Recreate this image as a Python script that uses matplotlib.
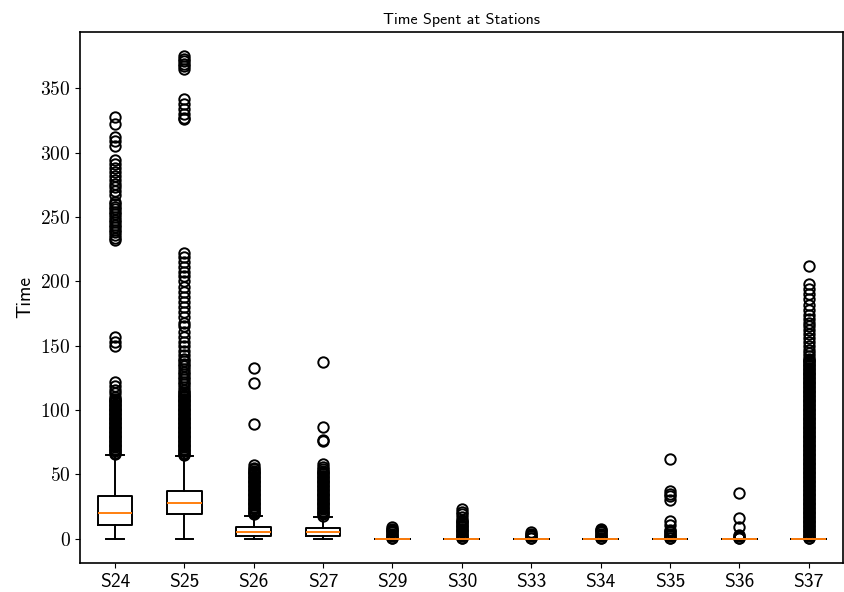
import matplotlib
matplotlib.use("Agg")
import matplotlib.pyplot as plt
from matplotlib.ticker import FuncFormatter

# ------------------ Box statistics ------------------
stations = ["S24", "S25", "S26", "S27", "S29", "S30", "S33", "S34", "S35", "S36", "S37"]
medians = [20, 28, 5, 5, 0, 0, 0, 0, 0, 0, 0]
q1 = [11, 19, 2.5, 2.5, 0, 0, 0, 0, 0, 0, 0]
q3 = [33, 37, 9, 8.5, 0, 0, 0, 0, 0, 0, 0]
whislo = [0, 0, 0, 0, 0, 0, 0, 0, 0, 0, 0]
whishi = [65, 64, 18, 17, 0, 0, 0, 0, 0, 0, 0]

# outliers per station
fliers_s24 = [66, 67, 68, 69, 70, 71, 72, 73, 74, 75, 76, 77, 78, 79, 80, 81, 82, 83,
              84, 85, 86, 87, 88, 89, 90, 91, 92, 93, 94, 95, 96, 97, 98, 99, 100,
              101, 102, 103, 104, 105, 106, 107, 108, 109, 110, 113, 116, 119, 122,
              150, 153, 157,
              232, 234, 236, 238, 240, 242, 244, 246, 248, 250, 252, 254, 256, 258,
              260, 262, 267, 270, 273, 276, 279, 282, 285, 288, 291, 294,
              305, 309, 312, 322, 328]
fliers_s25 = [65, 66, 67, 68, 69, 70, 71, 72, 73, 74, 75, 76, 77, 78, 79, 80, 81, 82,
              83, 84, 85, 86, 87, 88, 89, 90, 91, 92, 93, 94, 95, 96, 97, 98, 99, 100,
              101, 102, 103, 104, 105, 106, 107, 108, 109, 110, 111, 112, 113, 114,
              116, 118, 120, 122, 124, 126, 128, 130, 132, 134, 136, 138, 140, 143,
              146, 150, 153, 157, 161, 165, 168, 172, 176, 180, 184,
              188, 192, 196, 200, 204, 207, 211, 215, 219, 222,
              326, 327, 330, 334, 338, 342, 365, 367, 369, 371, 373, 375]
fliers_s26 = [19, 20, 21, 22, 23, 24, 25, 26, 27, 28, 29, 30, 31, 32, 33, 34, 35, 36,
              37, 38, 39, 40, 41, 42, 43, 44, 45, 46, 47, 48, 49, 50, 51, 52, 53, 54,
              55, 57, 89, 121, 133]
fliers_s27 = [18, 19, 20, 21, 22, 23, 24, 25, 26, 27, 28, 29, 30, 31, 32, 33, 34, 35,
              36, 37, 38, 39, 40, 41, 42, 43, 44, 45, 46, 47, 48, 49, 50, 51, 52, 53,
              54, 56, 58, 76, 77, 87, 137]
fliers_s29 = [0.5, 1, 2, 3, 4, 5, 6, 7, 8, 9]
fliers_s30 = [0.5, 1, 2, 3, 4, 5, 6, 7, 8, 9, 10, 11, 12, 13, 14, 15, 17, 19, 21, 23]
fliers_s33 = [0.5, 1, 2, 3, 4, 5]
fliers_s34 = [0.5, 1, 2, 3, 4, 5, 6, 7, 8]
fliers_s35 = [0.5, 1, 2, 3, 4, 5, 6, 7, 11, 14, 30, 33, 35, 37, 62]
fliers_s36 = [0.5, 1, 2, 3, 9, 16, 36]
fliers_s37 = [0.5, 1, 2, 3, 4, 5, 6, 7, 8, 9, 10, 11, 12, 13, 14, 15, 16, 17, 18, 19,
              20, 21, 22, 23, 24, 25, 26, 27, 28, 29, 30, 31, 32, 33, 34, 35, 36, 37,
              38, 39, 40, 41, 42, 43, 44, 45, 46, 47, 48, 49, 50, 51, 52, 53, 54, 55,
              56, 57, 58, 59, 60, 61, 62, 63, 64, 65, 66, 67, 68, 69, 70, 71, 72, 73,
              74, 75, 76, 77, 78, 79, 80, 81, 82, 83, 84, 85, 86, 87, 88, 89, 90, 91,
              92, 93, 94, 95, 96, 97, 98, 99, 100, 101, 102, 103, 104, 105, 106, 107,
              108, 109, 110, 111, 112, 113, 114, 115, 116, 117, 118, 119, 120, 121,
              122, 123, 124, 125, 126, 127, 128, 129, 130, 131, 132, 133, 134, 135,
              136, 137, 138, 139, 140, 142, 144, 147, 150, 153, 156, 159, 162, 165,
              168, 171, 174, 178, 182, 186, 190, 194, 198, 212]

all_fliers = [fliers_s24, fliers_s25, fliers_s26, fliers_s27, fliers_s29, fliers_s30,
              fliers_s33, fliers_s34, fliers_s35, fliers_s36, fliers_s37]

# ------------------ Fonts ------------------
plt.rcParams['font.family'] = ['cmss10', 'DejaVu Sans']
plt.rcParams['mathtext.fontset'] = 'cm'
plt.rcParams['axes.unicode_minus'] = False

stats = []
for i in range(len(stations)):
    stats.append({
        "label": stations[i],
        "med": medians[i],
        "q1": q1[i],
        "q3": q3[i],
        "whislo": whislo[i],
        "whishi": whishi[i],
        "fliers": all_fliers[i],
    })

fig = plt.figure(figsize=(8.45, 5.92), dpi=100)
ax = fig.add_axes([0.095, 0.049, 0.903, 0.897])

lw = 1.4
ax.bxp(stats, widths=0.5,
       boxprops=dict(linewidth=lw),
       whiskerprops=dict(linewidth=lw),
       capprops=dict(linewidth=lw),
       medianprops=dict(color='#ff7f0e', linewidth=lw),
       flierprops=dict(marker='o', markersize=7.5, markerfacecolor='none',
                       markeredgecolor='black', markeredgewidth=1.4))

ax.set_title("Time Spent at Stations", fontsize=11.5)
ax.set_ylabel("Time", fontsize=14)
ax.yaxis.set_major_formatter(FuncFormatter(lambda v, p: f"${v:.0f}$"))
ax.tick_params(axis='x', labelsize=14)
ax.tick_params(axis='y', labelsize=14)
for s in ax.spines.values():
    s.set_linewidth(1.2)

fig.savefig("out.png", dpi=100)
